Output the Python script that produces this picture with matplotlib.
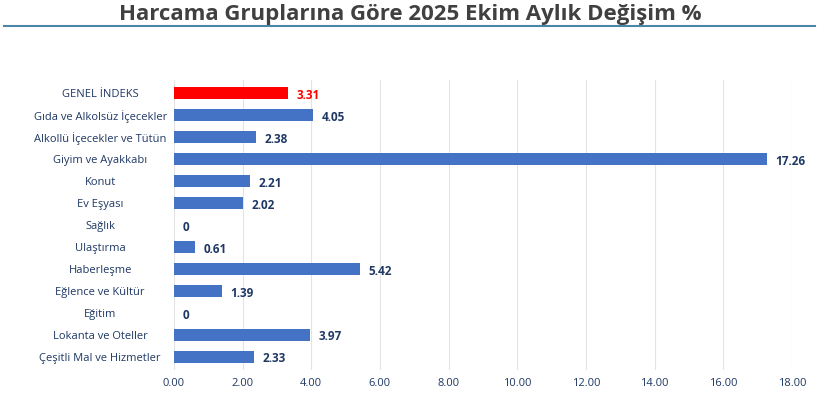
import matplotlib
matplotlib.use("Agg")
import matplotlib.pyplot as plt
from matplotlib.lines import Line2D

categories = ["GENEL İNDEKS", "Gıda ve Alkolsüz İçecekler", "Alkollü İçecekler ve Tütün",
              "Giyim ve Ayakkabı", "Konut", "Ev Eşyası", "Sağlık", "Ulaştırma",
              "Haberleşme", "Eğlence ve Kültür", "Eğitim", "Lokanta ve Oteller",
              "Çeşitli Mal ve Hizmetler"]
values = [3.31, 4.05, 2.38, 17.26, 2.21, 2.02, 0, 0.61, 5.42, 1.39, 0, 3.97, 2.33]
ticks = [0, 2, 4, 6, 8, 10, 12, 14, 16, 18]

plt.rcParams['font.family'] = ['Open Sans', 'DejaVu Sans']
fig = plt.figure(figsize=(8.2, 4.11), dpi=100)
ax = fig.add_axes([0.212, 0.10, 0.754, 0.705])

ypos = list(range(len(categories)))
colors = ['#ff0000'] + ['#4472c4'] * (len(categories) - 1)
ax.barh(ypos, values, height=0.55, color=colors, zorder=3)
for y, v, c in zip(ypos, values, colors):
    ax.text(v + 0.25, y + 0.1, f"{v:.2f}" if v else "0", va='center', ha='left',
            fontsize=8.5, fontweight='bold', color='#ff0000' if c == '#ff0000' else '#1f3864')

ax.set_ylim(len(categories) - 0.4, -0.6)
ax.set_xlim(0, 18)
ax.set_yticks(ypos)
ax.set_yticklabels(categories, fontsize=8, color='#1f3864')
for lab in ax.get_yticklabels():
    lab.set_ha('center')
ax.set_xticks(ticks)
ax.set_xticklabels([f"{t:.2f}" for t in ticks], fontsize=8, color='#1f3864')
ax.tick_params(axis='y', length=0, pad=53)
ax.tick_params(axis='x', length=0, pad=6)
ax.grid(axis='x', color='#e3e3e3', linewidth=0.8, zorder=0)
for s in ax.spines.values():
    s.set_visible(False)

fig.text(0.5, 0.965, "Harcama Gruplarına Göre 2025 Ekim Aylık Değişim %", ha='center', va='center',
         fontsize=16, fontweight='bold', color='#404040')
fig.add_artist(Line2D([0.005, 0.994], [0.937, 0.937], color='#4a86a8', linewidth=1.5))

fig.savefig("out.png", dpi=100)
